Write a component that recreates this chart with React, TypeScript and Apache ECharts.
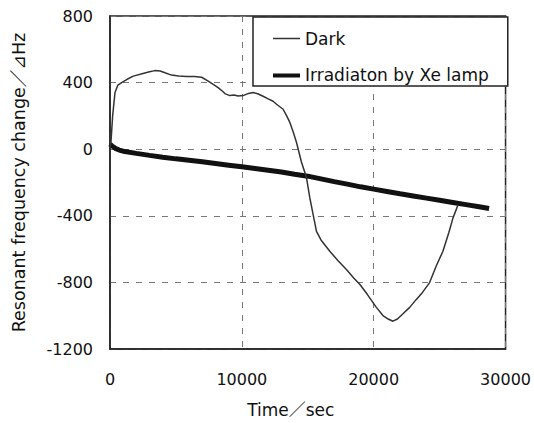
import React, { useEffect, useRef } from "react";
import * as echarts from "echarts";

const seriesNames = ["Dark", "Irradiaton by Xe lamp"];

const darkData: [number, number][] = [
  [0, 10], [75, 44], [200, 200], [380, 341], [600, 385], [880, 400], [1300, 420],
  [1770, 439], [2500, 455], [3000, 465], [3400, 472], [3800, 470], [4170, 459],
  [4670, 445], [5200, 440], [5800, 437], [6400, 436], [6950, 432], [7450, 409],
  [7830, 389], [8200, 370], [8580, 345], [8710, 334], [9090, 322], [9400, 325],
  [9720, 320], [10100, 322], [10500, 335], [10860, 340], [11200, 333], [11610, 318],
  [12000, 302], [12370, 288], [12630, 270], [13130, 240], [13400, 200], [13640, 161],
  [13890, 105], [14140, 42], [14520, -77], [14900, -170], [15150, -290], [15400, -390],
  [15660, -494], [16000, -545], [16670, -613], [17300, -670], [17930, -722],
  [18500, -775], [18940, -811], [19500, -870], [20200, -950], [20700, -999],
  [21100, -1020], [21460, -1033], [21800, -1020], [22200, -990], [22730, -950],
  [23200, -905], [23700, -860], [24240, -801], [24750, -700], [25250, -613],
  [25700, -500], [26010, -414], [26390, -335],
];

const xeData: [number, number][] = [
  [0, 30], [150, 20], [400, 5], [700, -5], [1000, -12], [2000, -25], [3000, -37],
  [4000, -48], [5000, -58], [6000, -67], [7000, -76], [8000, -86], [9000, -96],
  [10000, -106], [11000, -116], [12000, -126], [13000, -137], [14000, -150],
  [15000, -162], [16000, -178], [17000, -195], [18000, -210], [19000, -226],
  [20000, -240], [21000, -254], [22000, -268], [23000, -281], [24000, -294],
  [25000, -307], [26000, -320], [27000, -333], [28000, -346], [28750, -356],
];

const xTicks = { min: 0, max: 30000, interval: 10000 };
const yTicks = { min: -1200, max: 800, interval: 400 };

const FONT = "DejaVu Sans, 'Noto Sans CJK JP', sans-serif";

const thinIcon = "path://M0,0h0.01v0.01h-0.01z M0,6.25h27v1.5h-27z M26.99,13.99h0.01v0.01h-0.01z";
const thickIcon = "path://M0,0h0.01v0.01h-0.01z M0,5h27v4h-27z M26.99,13.99h0.01v0.01h-0.01z";

export default function App() {
  const ref = useRef<HTMLDivElement>(null);
  useEffect(() => {
    if (!ref.current) return;
    const chart = echarts.init(ref.current, undefined, { renderer: "svg" });
    chart.setOption({
      animation: false,
      backgroundColor: "#ffffff",
      textStyle: { fontFamily: FONT },
      grid: {
        left: 110,
        right: 28,
        top: 16,
        bottom: 71,
        show: true,
        borderColor: "#222",
        borderWidth: 1.5,
      },
      legend: {
        orient: "vertical",
        left: 253,
        top: 17,
        data: [
          { name: seriesNames[0], icon: thinIcon, itemStyle: { color: "#333" } },
          { name: seriesNames[1], icon: thickIcon, itemStyle: { color: "#111" } },
        ],
        itemWidth: 27,
        itemHeight: 14,
        itemGap: 20,
        padding: [13, 19, 2, 20],
        borderColor: "#222",
        borderWidth: 1.5,
        backgroundColor: "#fff",
        textStyle: { fontSize: 17, color: "#111", fontFamily: FONT },
      },
      xAxis: {
        type: "value",
        min: xTicks.min,
        max: xTicks.max,
        interval: xTicks.interval,
        name: "Time／sec",
        nameLocation: "middle",
        nameGap: 52,
        nameTextStyle: {
          fontSize: 17,
          color: "#111",
          padding: [0, 34, 0, 0],
          fontFamily: FONT,
        },
        axisLine: { show: true, onZero: false, lineStyle: { color: "#222", width: 1.5 } },
        axisTick: { show: false },
        axisLabel: {
          fontSize: 16,
          color: "#111",
          margin: 22,
          fontFamily: FONT,
          formatter: (v: number) => String(v),
        },
        splitLine: {
          show: true,
          lineStyle: { color: "#777", type: [6, 7], width: 1 },
        },
      },
      yAxis: {
        type: "value",
        min: yTicks.min,
        max: yTicks.max,
        interval: yTicks.interval,
        name: "Resonant frequency change／⊿Hz",
        nameLocation: "middle",
        nameGap: 82,
        nameTextStyle: { fontSize: 17.5, color: "#111", fontFamily: FONT },
        axisLine: { show: true, onZero: false, lineStyle: { color: "#222", width: 1.5 } },
        axisTick: { show: false },
        axisLabel: {
          fontSize: 16,
          color: "#111",
          margin: 17,
          fontFamily: FONT,
          formatter: (v: number) => String(v),
        },
        splitLine: {
          show: true,
          lineStyle: { color: "#777", type: [6, 7], width: 1 },
        },
      },
      series: [
        {
          name: seriesNames[0],
          type: "line",
          data: darkData,
          showSymbol: false,
          symbol: "none",
          lineStyle: { color: "#333", width: 1.5 },
          itemStyle: { color: "#333" },
          z: 3,
        },
        {
          name: seriesNames[1],
          type: "line",
          data: xeData,
          showSymbol: false,
          symbol: "none",
          lineStyle: { color: "#111", width: 5 },
          itemStyle: { color: "#111" },
          z: 2,
        },
      ],
    });
    return () => chart.dispose();
  }, []);
  return <div ref={ref} style={{ width: 534, height: 423, position: "absolute", left: 0, top: 0 }} />;
}
